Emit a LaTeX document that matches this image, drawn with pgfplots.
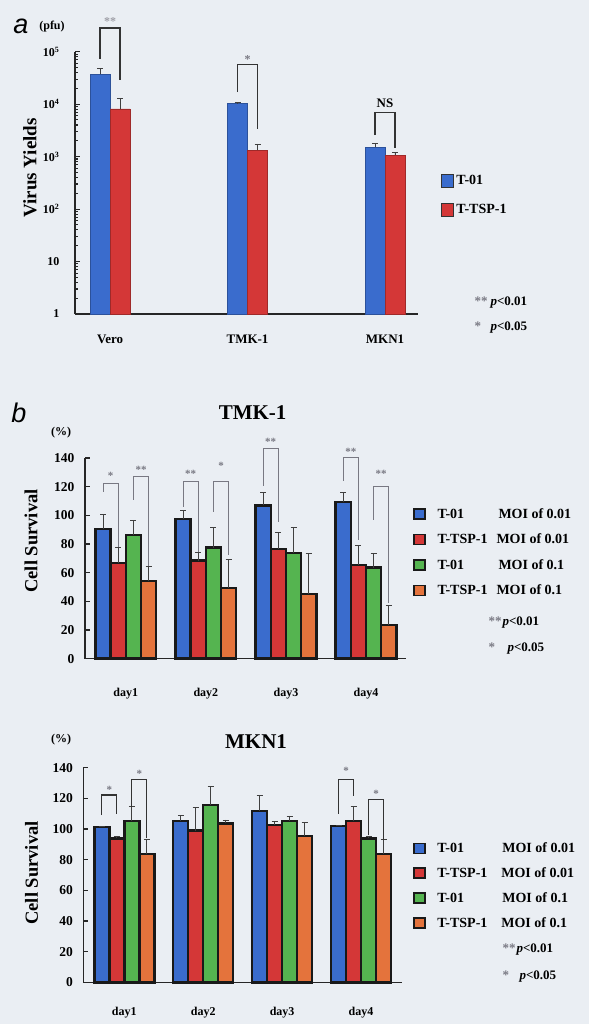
\documentclass[border=0pt]{standalone}
\usepackage{pgfplots}
\pgfplotsset{compat=1.18}
\usepackage{fontspec}
\setmainfont{Liberation Serif}
\newfontfamily\sansfam{Liberation Sans}
\definecolor{bg}{RGB}{234,238,243}
\definecolor{cblue}{RGB}{58,108,205}
\definecolor{cred}{RGB}{212,55,55}
\definecolor{cgreen}{RGB}{85,180,80}
\definecolor{corange}{RGB}{228,115,60}
\definecolor{starc}{RGB}{120,120,130}
\newcommand{\fs}[1]{\fontsize{#1}{#1}\selectfont}
\pgfplotsset{
  panel/.style={scale only axis, anchor=south west,
    axis x line*=bottom, axis y line*=left,
    axis line style={line width=1.6pt,-,black!85},
    tick align=inside, major tick length=5pt,
    ytick style={line width=1.1pt,black!85},
    xtick style={draw=none},
    clip=false, enlargelimits=false, legend cell align=left},
  errb/.style={/pgfplots/error bars/y dir=plus, /pgfplots/error bars/y explicit,
    /pgfplots/error bars/error bar style={line width=0.9pt,black!75},
    /pgfplots/error bars/error mark options={rotate=90,mark size=3pt,line width=0.9pt,black!75}},
  bb/.style={draw=black!90, line width=2.4pt, fill=#1,
    legend image code/.code={\draw[fill=#1,draw=black!90,line width=1.6pt] (0pt,-5pt) rectangle (11pt,5pt);}},
  ba/.style={draw=#1!75!black, line width=0.6pt, fill=#1,
    legend image code/.code={\draw[fill=#1,draw=black!80,line width=0.8pt] (0pt,-6.5pt) rectangle (12pt,6.5pt);}},
}
\tikzset{
  brk/.style={line width=0.6pt, starc},
  brkd/.style={line width=1.3pt, black!80},
}
\begin{document}
\begin{tikzpicture}[x=1pt,y=1pt]
\fill[bg] (0,0) rectangle (589,1024);
\useasboundingbox (0,0) rectangle (589,1024);

% ---------------- panel a ----------------
\begin{axis}[panel, at={(75pt,710pt)}, width=343pt, height=262.3pt,
  ybar=0pt, bar width=0.145,
  ymode=log, ymin=1, ymax=1e5, xmin=-0.255, xmax=2.24,
  ytick={1,10,100,1000,10000,100000},
  yticklabels={1,10,10\textsuperscript{2},10\textsuperscript{3},10\textsuperscript{4},10\textsuperscript{5}},
  yticklabel style={font=\bfseries\fs{12}, xshift=-12pt},
  xtick={0,1,2}, xticklabels={Vero,TMK-1,MKN1},
  xticklabel style={font=\bfseries\fs{13}, yshift=-12pt},
  legend style={at={(axis cs:2.407,475)}, anchor=north west, draw=none, fill=none,
    font=\bfseries\fs{14}, inner sep=0pt, nodes={inner sep=0.5pt}, row sep=15pt, column sep=2pt},
]
\addplot[ba=cblue, errb] coordinates {(0,37000) +- (0,11000) (1,10300) +- (0,300) (2,1520) +- (0,260)};
\addlegendentry{T-01}
\addplot[ba=cred, errb] coordinates {(0,8100) +- (0,4700) (1,1330) +- (0,410) (2,1070) +- (0,110)};
\addlegendentry{T-TSP-1}
\draw[line width=1.5pt, black!80] (axis cs:-0.0725,74000) |- (axis cs:0.0725,282000) -- (axis cs:0.0725,29000);
\node[font=\bfseries\fs{12}, text=starc!70, yshift=-2pt] at (axis cs:0,410000) {**};
\draw[line width=1.5pt, black!80] (axis cs:0.9275,17000) |- (axis cs:1.0725,57000) -- (axis cs:1.0725,3300);
\node[font=\bfseries\fs{12}, text=starc, yshift=-2pt] at (axis cs:1,78000) {*};
\draw[line width=1.5pt, black!80] (axis cs:1.9275,2570) |- (axis cs:2.0725,6900) -- (axis cs:2.0725,1430);
\node[font=\bfseries\fs{13}] at (axis cs:2,10500) {NS};
\end{axis}

% ---------------- panel b: TMK-1 ----------------
\begin{axis}[panel, at={(85pt,365.3pt)}, width=321pt, height=200.7pt,
  ybar=0pt, bar width=0.19,
  ymin=0, ymax=140, xmin=-0.51, xmax=3.50,
  ytick={0,20,40,60,80,100,120,140},
  yticklabels={0,20,40,60,80,100,120,140},
  yticklabel style={font=\bfseries\fs{13.5}, xshift=-7pt},
  xtick={0,1,2,3}, xticklabels={day1,day2,day3,day4},
  xticklabel style={font=\bfseries\fs{12}, yshift=-21pt},
  legend style={at={(axis cs:3.59,105.2)}, anchor=north west, draw=none, fill=none,
    font=\bfseries\fs{14}, inner sep=0pt, nodes={inner sep=0.5pt}, row sep=13pt, column sep=11pt},
]
\addplot[bb=cblue, errb] coordinates {(0,90.3) +- (0,10) (1,97.3) +- (0,6) (2,107) +- (0,9.1) (3,109.1) +- (0,7)};
\addlegendentry{\makebox[61pt][l]{T-01}MOI of 0.01}
\addplot[bb=cred, errb] coordinates {(0,66.6) +- (0,11.1) (1,68.4) +- (0,5.6) (2,76.6) +- (0,11.6) (3,65.4) +- (0,13.9)};
\addlegendentry{\makebox[59pt][l]{T-TSP-1}MOI of 0.01}
\addplot[bb=cgreen, errb] coordinates {(0,86.1) +- (0,10) (1,77.5) +- (0,14.2) (2,73.8) +- (0,17.6) (3,63.5) +- (0,9.6)};
\addlegendentry{\makebox[61pt][l]{T-01}MOI of 0.1}
\addplot[bb=corange, errb] coordinates {(0,54.4) +- (0,9.8) (1,49.3) +- (0,19.6) (2,45.2) +- (0,28.4) (3,23.3) +- (0,13.7)};
\addlegendentry{\makebox[59pt][l]{T-TSP-1}MOI of 0.1}
\draw[brk] (axis cs:-0.285,116.5) |- (axis cs:-0.095,122.4) -- (axis cs:-0.095,78);
\node[font=\bfseries\fs{11}, text=starc, yshift=-2pt] at (axis cs:-0.19,129) {*};
\draw[brk] (axis cs:0.095,110.7) |- (axis cs:0.285,127.5) -- (axis cs:0.285,65);
\node[font=\bfseries\fs{11}, text=starc, yshift=-2pt] at (axis cs:0.19,133) {**};
\draw[brk] (axis cs:0.715,106) |- (axis cs:0.905,124) -- (axis cs:0.905,74.7);
\node[font=\bfseries\fs{11}, text=starc, yshift=-2pt] at (axis cs:0.81,130) {**};
\draw[brk] (axis cs:1.095,102.6) |- (axis cs:1.285,124) -- (axis cs:1.285,72);
\node[font=\bfseries\fs{11}, text=starc, yshift=-2pt] at (axis cs:1.19,136) {*};
\draw[brk] (axis cs:1.715,120.5) |- (axis cs:1.905,146.8) -- (axis cs:1.905,95.6);
\node[font=\bfseries\fs{11}, text=starc, yshift=-2pt] at (axis cs:1.81,152.6) {**};
\draw[brk] (axis cs:2.715,124) |- (axis cs:2.905,140.3) -- (axis cs:2.905,82.8);
\node[font=\bfseries\fs{11}, text=starc, yshift=-2pt] at (axis cs:2.81,145.6) {**};
\draw[brk] (axis cs:3.095,96.8) |- (axis cs:3.285,120) -- (axis cs:3.285,38.6);
\node[font=\bfseries\fs{11}, text=starc, yshift=-2pt] at (axis cs:3.19,130.5) {**};
\end{axis}

% ---------------- panel b: MKN1 ----------------
\begin{axis}[panel, at={(83.3pt,41.7pt)}, width=318.7pt, height=214.6pt,
  ybar=0pt, bar width=0.19,
  ymin=0, ymax=140, xmin=-0.52, xmax=3.519,
  ytick={0,20,40,60,80,100,120,140},
  yticklabels={0,20,40,60,80,100,120,140},
  yticklabel style={font=\bfseries\fs{13.5}, xshift=-7pt},
  xtick={0,1,2,3}, xticklabels={day1,day2,day3,day4},
  xticklabel style={font=\bfseries\fs{12}, yshift=-16pt},
  legend style={at={(axis cs:3.659,91.5)}, anchor=north west, draw=none, fill=none,
    font=\bfseries\fs{14}, inner sep=0pt, nodes={inner sep=0.5pt}, row sep=12.5pt, column sep=11pt},
]
\addplot[bb=cblue, errb] coordinates {(0,101.5) +- (0,0.3) (1,105.2) +- (0,3.9) (2,111.9) +- (0,9.8) (3,102) +- (0,0.3)};
\addlegendentry{\makebox[65pt][l]{T-01}MOI of 0.01}
\addplot[bb=cred, errb] coordinates {(0,93.9) +- (0,1.1) (1,98.9) +- (0,15) (2,102.6) +- (0,2.2) (3,105.4) +- (0,9.6)};
\addlegendentry{\makebox[64pt][l]{T-TSP-1}MOI of 0.01}
\addplot[bb=cgreen, errb] coordinates {(0,105.2) +- (0,9.3) (1,115.5) +- (0,12.5) (2,105.2) +- (0,3.3) (3,93.9) +- (0,1.5)};
\addlegendentry{\makebox[65pt][l]{T-01}MOI of 0.1}
\addplot[bb=corange, errb] coordinates {(0,83.7) +- (0,9.8) (1,103.7) +- (0,2.2) (2,95.4) +- (0,9) (3,83.7) +- (0,9.6)};
\addlegendentry{\makebox[64pt][l]{T-TSP-1}MOI of 0.1}
\draw[brkd] (axis cs:-0.285,109) |- (axis cs:-0.095,122.2) -- (axis cs:-0.095,110);
\node[font=\bfseries\fs{11}, text=starc, yshift=-2pt] at (axis cs:-0.19,127) {*};
\draw[brkd] (axis cs:0.095,114.5) |- (axis cs:0.285,132.4) -- (axis cs:0.285,94);
\node[font=\bfseries\fs{11}, text=starc, yshift=-2pt] at (axis cs:0.19,137.4) {*};
\draw[brkd] (axis cs:2.715,109.8) |- (axis cs:2.905,132.4) -- (axis cs:2.905,121.5);
\node[font=\bfseries\fs{11}, text=starc, yshift=-2pt] at (axis cs:2.81,139) {*};
\draw[brkd] (axis cs:3.095,96) |- (axis cs:3.285,119.4) -- (axis cs:3.285,92.8);
\node[font=\bfseries\fs{11}, text=starc, yshift=-2pt] at (axis cs:3.19,124.3) {*};
\end{axis}

% ---------------- free text ----------------
\node[font=\sansfam\itshape\fs{27}] at (21,998) {a};
\node[font=\bfseries\fs{12}] at (52,997) {(pfu)};
\node[font=\bfseries\fs{19}, rotate=90] at (30,856) {Virus Yields};
\node[font=\bfseries\fs{13}, anchor=west] at (471,721) {\makebox[16pt][l]{\textcolor{starc}{**}}\textit{p}<0.01};
\node[font=\bfseries\fs{13}, anchor=west] at (471,696) {\makebox[16pt][l]{\textcolor{starc}{*}}\textit{p}<0.05};

\node[font=\sansfam\itshape\fs{27}] at (19,611) {b};
\node[font=\bfseries\fs{21}] at (252.6,611) {TMK-1};
\node[font=\bfseries\fs{12}] at (61,591) {(\%)};
\node[font=\bfseries\fs{18.5}, rotate=90] at (31,483) {Cell Survival};
\node[font=\bfseries\fs{13}, anchor=west] at (485,401) {\makebox[14pt][l]{\textcolor{starc}{**}}\textit{p}<0.01};
\node[font=\bfseries\fs{13}, anchor=west] at (485,375) {\makebox[19pt][l]{\textcolor{starc}{*}}\textit{p}<0.05};

\node[font=\bfseries\fs{21}] at (256,282.3) {MKN1};
\node[font=\bfseries\fs{12}] at (61,284) {(\%)};
\node[font=\bfseries\fs{18.5}, rotate=90] at (31.5,151) {Cell Survival};
\node[font=\bfseries\fs{13}, anchor=west] at (499,74) {\makebox[14pt][l]{\textcolor{starc}{**}}\textit{p}<0.01};
\node[font=\bfseries\fs{13}, anchor=west] at (499,47) {\makebox[17pt][l]{\textcolor{starc}{*}}\textit{p}<0.05};
\end{tikzpicture}
\end{document}
